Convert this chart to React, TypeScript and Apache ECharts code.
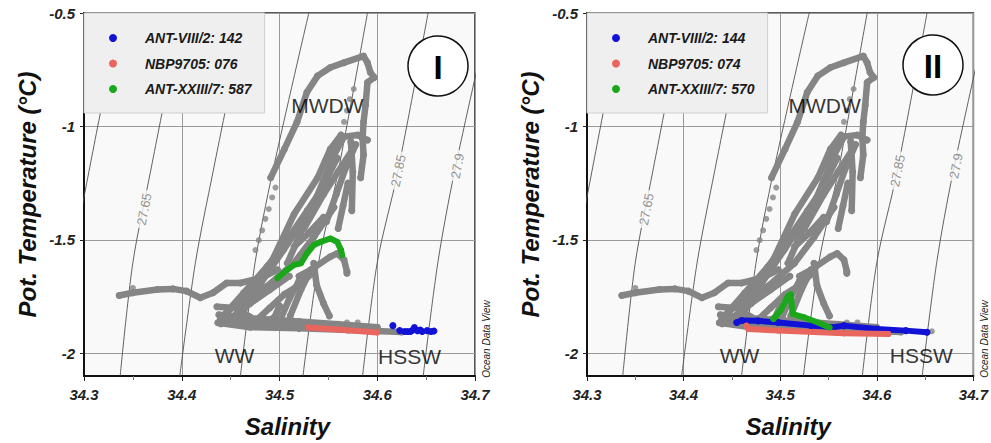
import React, { useEffect, useRef } from "react";
import * as echarts from "echarts";

const FONT = '"Liberation Sans", Arial, Helvetica, sans-serif';

// ---------- axes ----------
const SAL_MIN = 34.3;
const SAL_MAX = 34.7;
const SAL_STEP = 0.1;
const TEMP_MIN = -2.1;
const TEMP_MAX = -0.5;
const TEMP_TICKS = [-2, -1.5, -1, -0.5];

// ---------- isopycnals (sigma-theta), [salinity, pot. temperature] ----------
const ISO_27_60 = [[34.275, -2.1], [34.288, -1.6], [34.305, -1.2], [34.337, -0.5]];
const ISO_27_65 = [[34.337, -2.1], [34.350, -1.6], [34.368, -1.2], [34.400, -0.5]];
const ISO_27_70 = [[34.398, -2.1], [34.414, -1.6], [34.432, -1.2], [34.465, -0.5]];
const ISO_27_75 = [[34.460, -2.1], [34.475, -1.6], [34.493, -1.2], [34.530, -0.5]];
const ISO_27_80 = [[34.524, -2.1], [34.540, -1.6], [34.560, -1.2], [34.590, -0.5]];
const ISO_27_85 = [[34.585, -2.1], [34.600, -1.6], [34.621, -1.2], [34.652, -0.5]];
const ISO_27_90 = [[34.647, -2.1], [34.662, -1.6], [34.679, -1.2], [34.715, -0.5]];
const ISOPYCNALS = [ISO_27_60, ISO_27_65, ISO_27_70, ISO_27_75, ISO_27_80, ISO_27_85, ISO_27_90];
const ISO_LABEL_NAMES = ["27.65", "27.85", "27.9"];
const ISO_LABEL_SAL = [34.3615, 34.6215, 34.682];
const ISO_LABEL_TEMP = [-1.365, -1.195, -1.174];

// ---------- gray background profiles (all stations) ----------
const GRAY_TAIL = [[34.336, -1.745], [34.350, -1.733], [34.375, -1.719], [34.391, -1.716], [34.405, -1.726], [34.419, -1.755], [34.432, -1.733], [34.446, -1.690], [34.460, -1.690], [34.481, -1.668], [34.498, -1.632]];
const GRAY_PEAK = [[34.491, -1.226], [34.505, -1.100], [34.518, -0.980], [34.528, -0.849], [34.539, -0.777], [34.552, -0.740], [34.566, -0.719], [34.586, -0.690], [34.590, -0.719], [34.593, -0.762], [34.597, -0.784], [34.590, -0.806], [34.588, -0.907], [34.586, -0.980], [34.585, -1.052], [34.586, -1.125], [34.583, -1.226]];
const GRAY_DANGLE = [[34.573, -1.067], [34.575, -1.200], [34.574, -1.371]];
const GRAY_BAND_B = [[34.488, -1.632], [34.515, -1.386], [34.539, -1.226], [34.552, -1.100], [34.563, -1.038]];
const GRAY_BAND_C = [[34.508, -1.603], [34.535, -1.342], [34.556, -1.125], [34.566, -1.045], [34.580, -1.038], [34.590, -1.060]];
const GRAY_BAND_H = [[34.446, -1.820], [34.481, -1.690], [34.504, -1.545], [34.522, -1.429], [34.542, -1.284], [34.559, -1.139]];
const GRAY_D1 = [[34.4395, -1.849], [34.4634, -1.7335], [34.4874, -1.6174], [34.5078, -1.5013], [34.5284, -1.3709], [34.5488, -1.2404]];
const GRAY_D2 = [[34.46, -1.7913], [34.4874, -1.7043], [34.5147, -1.603], [34.5352, -1.487], [34.5557, -1.3565]];
const GRAY_E1 = [[34.525, -1.450], [34.545, -1.300], [34.560, -1.200], [34.575, -1.100]];
const GRAY_E2 = [[34.548, -1.420], [34.558, -1.300], [34.568, -1.180], [34.578, -1.080]];
const GRAY_E3 = [[34.560, -1.450], [34.565, -1.350], [34.570, -1.250]];
const GRAY_F1 = [[34.450, -1.850], [34.470, -1.780], [34.490, -1.720], [34.510, -1.660]];
const GRAY_F2 = [[34.475, -1.860], [34.490, -1.800], [34.505, -1.740], [34.520, -1.700], [34.535, -1.640]];
const GRAY_G1 = [[34.440, -1.870], [34.455, -1.830], [34.465, -1.800]];
const GRAY_G2 = [[34.480, -1.880], [34.495, -1.840], [34.500, -1.790]];
const GRAY_G3 = [[34.515, -1.530], [34.530, -1.470], [34.545, -1.400]];
const GRAY_G4 = [[34.498, -1.560], [34.512, -1.480], [34.526, -1.400], [34.540, -1.330]];
const GRAY_BAND_I = [[34.511, -1.835], [34.522, -1.719], [34.532, -1.632]];
const GRAY_MID = [[34.50, -1.86], [34.51, -1.76], [34.52, -1.68]];
const GRAY_LOOP = [[34.520, -1.660], [34.532, -1.632], [34.552, -1.574], [34.559, -1.560], [34.566, -1.588], [34.569, -1.639], [34.569, -1.647]];
const GRAY_FALL = [[34.535, -1.603], [34.538, -1.700], [34.545, -1.780], [34.551, -1.835]];
const GRAY_WW = [[34.436, -1.795], [34.455, -1.800], [34.470, -1.840]];
const GRAY_BASE_TOP = [[34.438, -1.830], [34.470, -1.845], [34.520, -1.860], [34.560, -1.872], [34.600, -1.885]];
const GRAY_BASE_MID = [[34.440, -1.850], [34.480, -1.868], [34.540, -1.878], [34.600, -1.893]];
const GRAY_BASE_BOT = [[34.437, -1.865], [34.470, -1.885], [34.520, -1.890], [34.570, -1.897], [34.625, -1.906]];
const GRAY_PROFILES = [GRAY_TAIL, GRAY_PEAK, GRAY_DANGLE, GRAY_BAND_B, GRAY_BAND_C, GRAY_BAND_H, GRAY_D1, GRAY_D2, GRAY_E1, GRAY_E2, GRAY_E3, GRAY_F1, GRAY_F2, GRAY_G1, GRAY_G2, GRAY_G3, GRAY_G4, GRAY_BAND_I, GRAY_MID, GRAY_LOOP, GRAY_FALL, GRAY_WW, GRAY_BASE_TOP, GRAY_BASE_MID, GRAY_BASE_BOT];
const GRAY_SPARSE = [[34.4754, -1.5448], [34.4788, -1.5013], [34.4823, -1.4578], [34.4856, -1.4074], [34.4890, -1.3639], [34.4925, -1.3130], [34.4959, -1.2696], [34.566, -0.98], [34.569, -0.93], [34.572, -0.88], [34.576, -0.835], [34.350, -1.712], [34.569, -1.864], [34.580, -1.864], [34.657, -1.903]];

// ---------- panel I ----------
const LEGEND_I = ["ANT-VIII/2: 142", "NBP9705: 076", "ANT-XXIII/7: 587"];
const BLUE_I = [[34.616, -1.878], [34.623, -1.900], [34.628, -1.904], [34.631, -1.904], [34.634, -1.904], [34.636, -1.898], [34.638, -1.886], [34.641, -1.900], [34.644, -1.897], [34.646, -1.904], [34.651, -1.900], [34.655, -1.904], [34.658, -1.902]];
const RED_I = [[34.529, -1.886], [34.560, -1.895], [34.600, -1.908]];
const GREEN_I = [[34.498, -1.668], [34.508, -1.632], [34.515, -1.610], [34.522, -1.603], [34.528, -1.560], [34.535, -1.523], [34.542, -1.509], [34.552, -1.494], [34.559, -1.509], [34.563, -1.545], [34.564, -1.567]];
const WATER_NAMES = ["MWDW", "WW", "HSSW"];
const WATER_SAL_I = [34.549, 34.454, 34.633];
const WATER_TEMP_I = [-0.909, -2.009, -2.013];

// ---------- panel II ----------
const LEGEND_II = ["ANT-VIII/2: 144", "NBP9705: 074", "ANT-XXIII/7: 570"];
const BLUE_II = [[34.455, -1.864], [34.460, -1.855], [34.477, -1.857], [34.498, -1.864], [34.532, -1.878], [34.553, -1.886], [34.566, -1.878], [34.600, -1.893], [34.630, -1.900], [34.652, -1.907]];
const RED_II = [[34.465, -1.878], [34.467, -1.893], [34.498, -1.900], [34.566, -1.912], [34.612, -1.915]];
const GREEN_II = [[34.493, -1.849], [34.501, -1.806], [34.508, -1.748], [34.511, -1.740], [34.512, -1.791], [34.513, -1.827], [34.525, -1.842], [34.539, -1.864], [34.551, -1.886]];
const WATER_SAL_II = [34.546, 34.458, 34.646];
const WATER_TEMP_II = [-0.909, -2.009, -2.009];

const GRAY = "#858585";
const BLUE = "#1212d6";
const RED = "#e8665e";
const GREEN = "#1aa81a";
const PLOT_BG = "#f9f9f9";

function buildPanel(
  i: number,
  names: string[],
  blue: number[][],
  red: number[][],
  green: number[][],
  blueBand: boolean,
  wSal: number[],
  wTemp: number[]
) {
  const ax = { xAxisIndex: i, yAxisIndex: i };
  const s: any[] = [];
  ISOPYCNALS.forEach((d) =>
    s.push({
      type: "line", ...ax, data: d, smooth: 0.3, symbol: "none", silent: true, z: 1,
      lineStyle: { color: "#505050", width: 0.9 },
    })
  );
  s.push({
    type: "scatter", ...ax, silent: true, z: 2, symbolSize: 0.1,
    itemStyle: { color: "rgba(0,0,0,0)" },
    data: ISO_LABEL_NAMES.map((n, k) => ({ name: n, value: [ISO_LABEL_SAL[k], ISO_LABEL_TEMP[k]] })),
    label: {
      show: true, position: "inside", formatter: "{b}", rotate: 79, color: "#777",
      fontSize: 13, fontFamily: FONT, backgroundColor: PLOT_BG, padding: [1, 3],
    },
  });
  GRAY_PROFILES.forEach((d) =>
    s.push({
      type: "line", ...ax, data: d, symbol: "circle", symbolSize: 7, showSymbol: true, silent: true, z: 3,
      lineStyle: { color: GRAY, width: 6.5, cap: "round", join: "round" },
      itemStyle: { color: GRAY },
    })
  );
  s.push({ type: "scatter", ...ax, data: GRAY_SPARSE, symbolSize: 6, itemStyle: { color: GRAY }, silent: true, z: 3 });

  if (blueBand) {
    s.push({
      type: "line", ...ax, name: names[0], data: blue, color: BLUE, symbol: "circle", symbolSize: 7, z: 4,
      lineStyle: { color: BLUE, width: 6, cap: "round", join: "round" }, itemStyle: { color: BLUE },
    });
  } else {
    s.push({ type: "scatter", ...ax, name: names[0], data: blue, color: BLUE, symbolSize: 7, itemStyle: { color: BLUE, opacity: 1 }, z: 4 });
  }
  s.push({
    type: "line", ...ax, name: names[1], data: red, color: RED, symbol: "circle", symbolSize: 6, z: 5,
    lineStyle: { color: RED, width: 6, cap: "round", join: "round" }, itemStyle: { color: RED },
  });
  s.push({
    type: "line", ...ax, name: names[2], data: green, color: GREEN, symbol: "circle", symbolSize: 6, z: 6,
    lineStyle: { color: GREEN, width: 6, cap: "round", join: "round" }, itemStyle: { color: GREEN },
  });
  s.push({
    type: "scatter", ...ax, silent: true, z: 10, symbolSize: 0.1,
    itemStyle: { color: "rgba(0,0,0,0)" },
    data: WATER_NAMES.map((n, k) => ({ name: n, value: [wSal[k], wTemp[k]] })),
    label: { show: true, position: "inside", formatter: "{b}", color: "#000", fontSize: 21, fontFamily: FONT },
  });
  return s;
}

function xAxisFor(i: number) {
  return {
    type: "value", gridIndex: i, min: SAL_MIN, max: SAL_MAX, interval: SAL_STEP,
    name: "Salinity", nameLocation: "middle", nameGap: 38,
    nameTextStyle: { fontSize: 24, fontWeight: "bold", fontStyle: "italic", color: "#111", fontFamily: FONT, padding: [0, 0, 0, 16] },
    axisLine: { show: true, lineStyle: { color: "#111", width: 2 } },
    axisTick: { show: true, length: 5, lineStyle: { color: "#222" } },
    minorTick: { show: true, splitNumber: 2, length: 4, lineStyle: { color: "#777" } },
    axisLabel: {
      margin: 11, fontSize: 15, fontWeight: "bold", fontStyle: "italic", color: "#222", fontFamily: FONT,
      formatter: (v: number) => v.toFixed(1),
    },
    splitLine: { show: true, lineStyle: { color: "#9a9a9a", width: 1 } },
  };
}

function yAxisFor(i: number) {
  return {
    type: "value", gridIndex: i, min: TEMP_MIN, max: TEMP_MAX,
    name: "Pot. Temperature (°C)", nameLocation: "middle", nameGap: 45,
    nameTextStyle: { fontSize: 24, fontWeight: "bold", fontStyle: "italic", color: "#111", fontFamily: FONT, padding: [0, 0, 0, 0] },
    axisLine: { show: true, lineStyle: { color: "#111", width: 2 } },
    axisTick: { show: true, length: 4, customValues: TEMP_TICKS, lineStyle: { color: "#222" } },
    axisLabel: {
      customValues: TEMP_TICKS, margin: 9, fontSize: 15, fontWeight: "bold", fontStyle: "italic", color: "#222", fontFamily: FONT,
      formatter: (v: number) => String(v),
    },
    splitLine: { show: true, lineStyle: { color: "#9a9a9a", width: 1 } },
  };
}

function legendFor(left: number, names: string[]) {
  return {
    data: names, left, top: 13, orient: "vertical", icon: "circle", itemWidth: 8, itemHeight: 8, itemGap: 11.5,
    padding: [18, 13, 17, 25], backgroundColor: "#efefef", borderColor: "#cfcfcf", borderWidth: 1, selectedMode: false,
    textStyle: { fontSize: 14, fontWeight: "bold", fontStyle: "italic", color: "#1a1a1a", fontFamily: FONT, padding: [0, 0, 0, 23] },
  };
}

function panelGraphics(cx: number, cy: number, roman: string, odvX: number) {
  return [
    { type: "circle", shape: { cx, cy, r: 30 }, style: { fill: "#fff", stroke: "#111", lineWidth: 1.5 }, z: 100 },
    { type: "text", x: cx, y: cy + 1, style: { text: roman, fontSize: 33, fontWeight: "bold", fontFamily: FONT, fill: "#000", align: "center", verticalAlign: "middle" }, z: 101 },
    { type: "text", x: odvX, y: 339, rotation: Math.PI / 2, style: { text: "Ocean Data View", fontSize: 10, fontStyle: "italic", fontFamily: FONT, fill: "#222", align: "center", verticalAlign: "middle" }, z: 101 },
  ];
}

export default function App() {
  const ref = useRef<HTMLDivElement>(null);
  useEffect(() => {
    if (!ref.current) return;
    const chart = echarts.init(ref.current, undefined, { renderer: "svg" });
    chart.setOption({
      animation: false,
      backgroundColor: "#ffffff",
      grid: [
        { left: 84, top: 13, width: 391, height: 368, show: true, backgroundColor: PLOT_BG, borderColor: "#222", borderWidth: 1.5 },
        { left: 587, top: 13, width: 391, height: 368, show: true, backgroundColor: PLOT_BG, borderColor: "#222", borderWidth: 1.5 },
      ],
      xAxis: [xAxisFor(0), xAxisFor(1)],
      yAxis: [yAxisFor(0), yAxisFor(1)],
      legend: [legendFor(84, LEGEND_I), legendFor(587, LEGEND_II)],
      series: [
        ...buildPanel(0, LEGEND_I, BLUE_I, RED_I, GREEN_I, false, WATER_SAL_I, WATER_TEMP_I),
        ...buildPanel(1, LEGEND_II, BLUE_II, RED_II, GREEN_II, true, WATER_SAL_II, WATER_TEMP_II),
      ],
      graphic: [...panelGraphics(438, 66, "I", 486), ...panelGraphics(933, 65, "II", 984)],
    });
    return () => chart.dispose();
  }, []);
  return <div ref={ref} style={{ position: "fixed", left: 0, top: 0, width: 991, height: 443 }} />;
}
